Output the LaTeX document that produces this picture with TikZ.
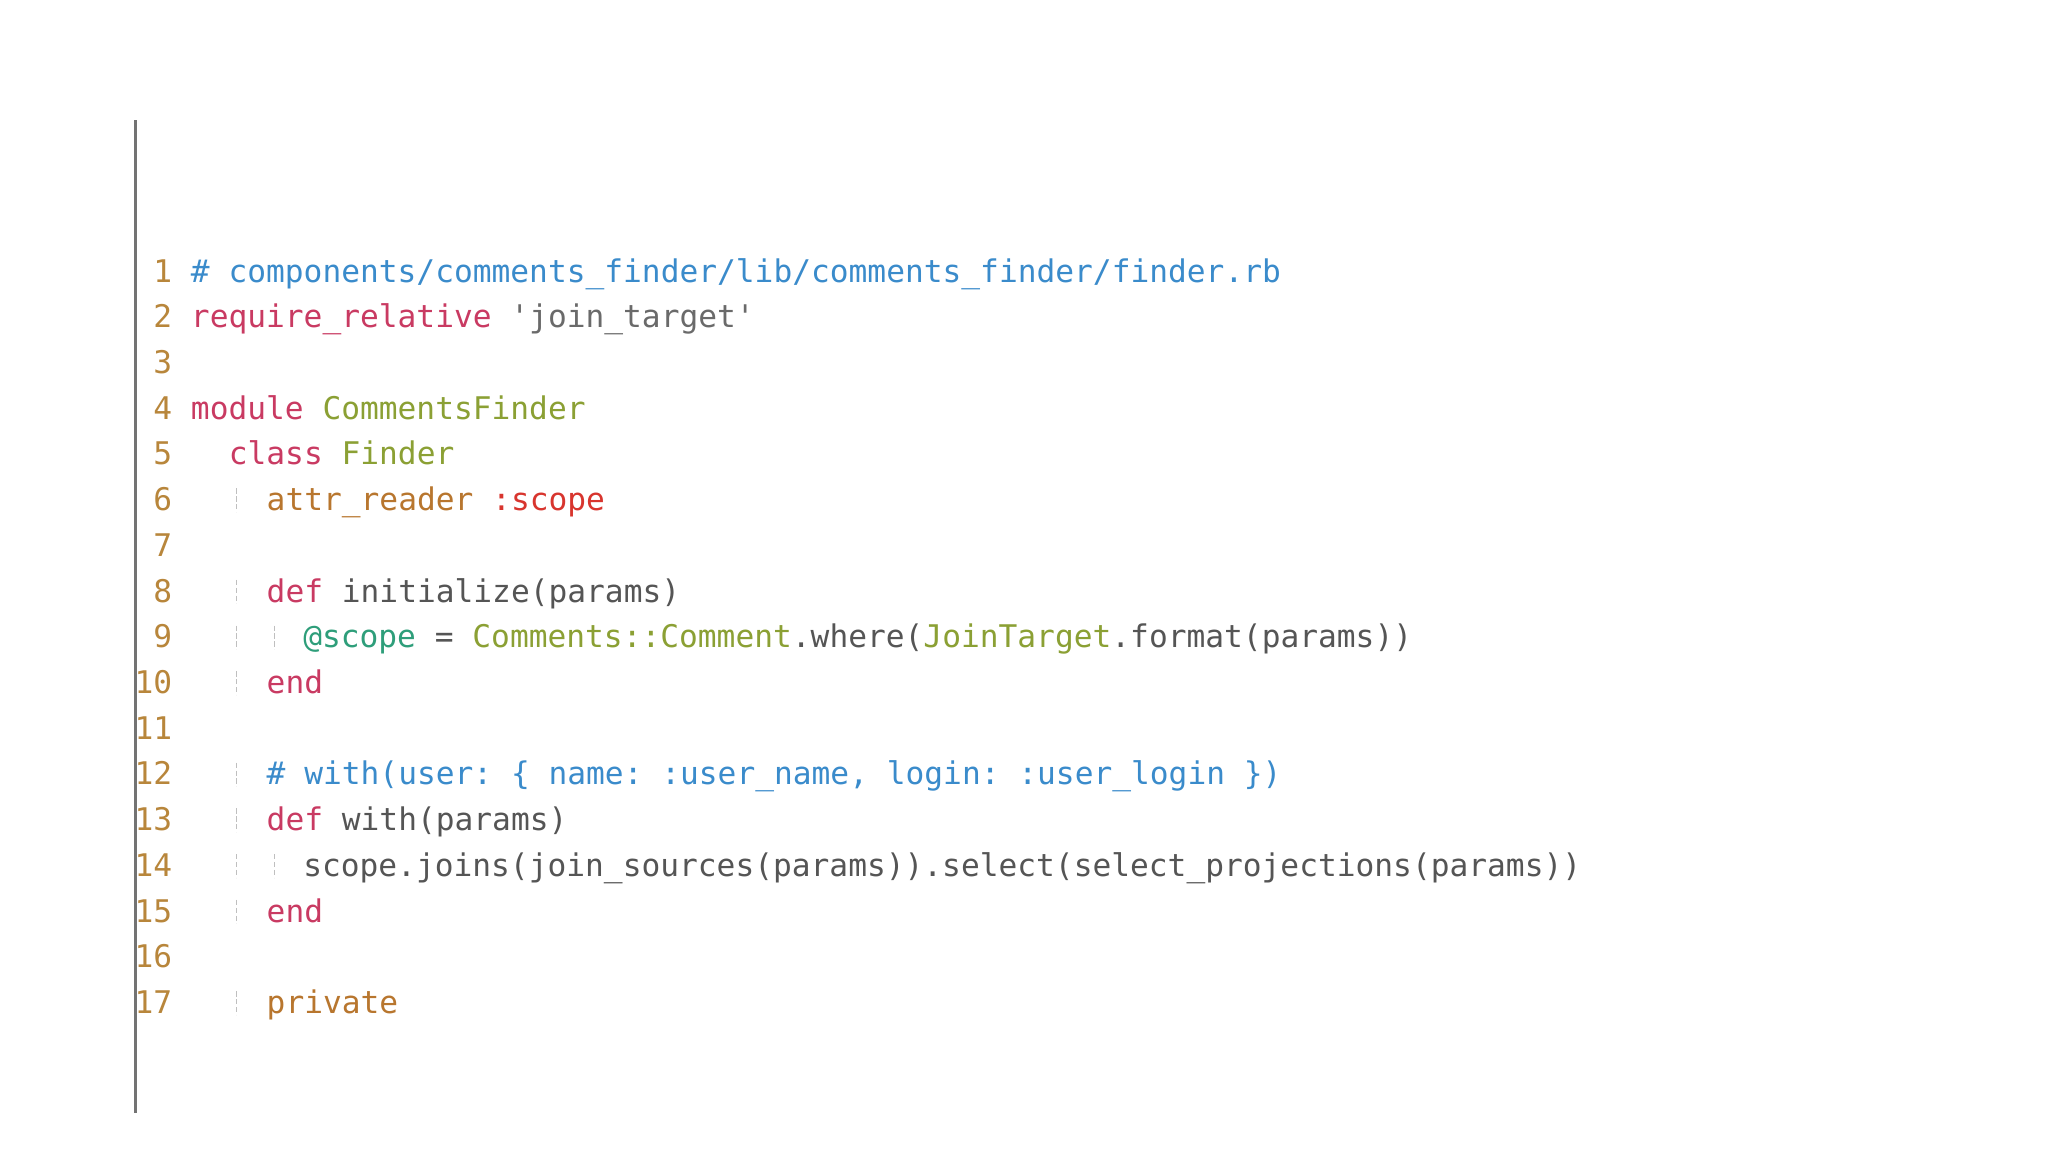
\documentclass[tikz,border=0pt]{standalone}
\usepackage{fontspec}
\setmonofont{DejaVu Sans Mono}
\definecolor{lnum}{HTML}{B8863B}
\definecolor{cmt}{HTML}{3A8BCB}
\definecolor{kw}{HTML}{C93A62}
\definecolor{cls}{HTML}{8BA034}
\definecolor{str}{HTML}{6A6A6A}
\definecolor{meth}{HTML}{B8762E}
\definecolor{sym}{HTML}{D8352E}
\definecolor{ivar}{HTML}{2E9E7A}
\definecolor{plain}{HTML}{555555}
\newcommand{\cc}[2]{\textcolor{#1}{#2}}
\newcommand{\us}{{\char"5F}}
\begin{document}
\begin{tikzpicture}[x=1pt,y=-1pt,
  codefont/.style={font=\fontsize{23.9}{28}\ttfamily, inner sep=0pt, anchor=base west},
  numfont/.style={font=\fontsize{23.9}{28}\ttfamily, inner sep=0pt, anchor=base east, text=lnum},
  guide/.style={draw=black!25, line width=1.2pt, dash pattern=on 4pt off 2pt}]
\useasboundingbox (0,0) rectangle (1568,882);
\fill[white] (0,0) rectangle (1568,882);
\coordinate (lt) at (104,92);
\coordinate (lb) at (104,852);
\draw[black!55, line width=2.5pt] (lt) -- (lb);
\foreach \i in {1,...,17}{
  \node[numfont] (n\i) at (132,{216+35*(\i-1)}) {\i};
}
\node[codefont] (c1) at (146,216) {\cc{cmt}{\# components/comments\us finder/lib/comments\us finder/finder.rb}};
\node[codefont] (c2) at (146,251) {\cc{kw}{require\us relative} \cc{str}{'join\us target'}};
\node[codefont] (c4) at (146,321) {\cc{kw}{module} \cc{cls}{CommentsFinder}};
\node[codefont] (c5) at (175,356) {\cc{kw}{class} \cc{cls}{Finder}};
\node[codefont] (c6) at (204,391) {\cc{meth}{attr\us reader} \cc{sym}{:scope}};
\node[codefont] (c8) at (204,461) {\cc{kw}{def} \cc{plain}{initialize(params)}};
\node[codefont] (c9) at (232,496) {\cc{ivar}{@scope} \cc{plain}{=} \cc{cls}{Comments::Comment}\cc{plain}{.where(}\cc{cls}{JoinTarget}\cc{plain}{.format(params))}};
\node[codefont] (c10) at (204,531) {\cc{kw}{end}};
\node[codefont] (c12) at (204,601) {\cc{cmt}{\# with(user: \{ name: :user\us name, login: :user\us login \})}};
\node[codefont] (c13) at (204,636) {\cc{kw}{def} \cc{plain}{with(params)}};
\node[codefont] (c14) at (232,671) {\cc{plain}{scope.joins(join\us sources(params)).select(select\us projections(params))}};
\node[codefont] (c15) at (204,706) {\cc{kw}{end}};
\node[codefont] (c17) at (204,776) {\cc{meth}{private}};
\foreach \i in {6,8,9,10,12,13,14,15,17}{
  \draw[guide] (181,{208+35*(\i-1)-9}) -- (181,{208+35*(\i-1)+9});
}
\foreach \i in {9,14}{
  \draw[guide] (210,{208+35*(\i-1)-9}) -- (210,{208+35*(\i-1)+9});
}
\end{tikzpicture}
\end{document}
